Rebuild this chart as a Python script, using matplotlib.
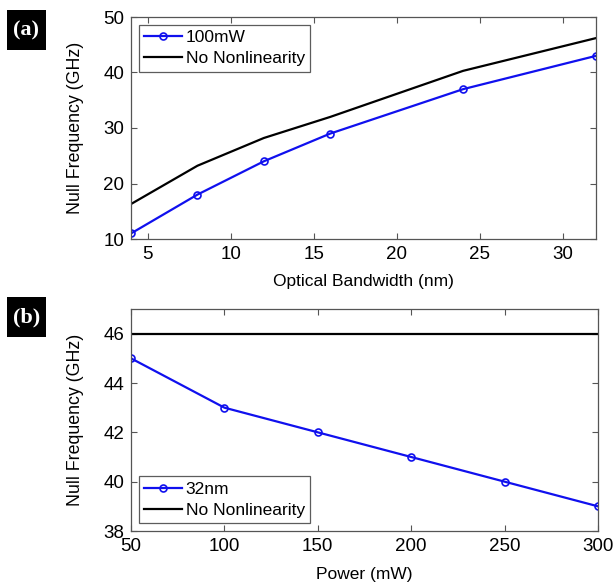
import matplotlib.pyplot as plt
from matplotlib.patches import Rectangle

# datos panel (a)
bw_nm = [4, 8, 12, 16, 24, 32]
null_100mw = [11, 18, 24, 29, 37, 43]
null_nonl_a = [16.3, 23.2, 28.2, 32.0, 40.3, 46.2]

# datos panel (b)
power_mw = [50, 100, 150, 200, 250, 300]
null_32nm = [45, 43, 42, 41, 40, 39]
null_nonl_b = [46, 46, 46, 46, 46, 46]

plt.rcParams['font.family'] = ['Liberation Sans', 'DejaVu Sans']
plt.rcParams['font.size'] = 12

fig = plt.figure(figsize=(6.15, 5.84), dpi=100)
W, H = 615, 584

def mk_axes(x0, y0, x1, y1):
    return fig.add_axes([x0 / W, 1 - y1 / H, (x1 - x0) / W, (y1 - y0) / H])

def style(ax):
    ax.tick_params(direction='in', top=True, right=True, length=4, width=0.8,
                   labelsize=13.5, color='#555555', pad=5)
    for s in ax.spines.values():
        s.set_color('#555555')
        s.set_linewidth(0.9)

def add_legend(ax, loc):
    leg = ax.legend(loc=loc, fontsize=12.5, frameon=True, fancybox=False,
                    edgecolor='#333333', handlelength=2.2, handletextpad=0.2,
                    borderpad=0.3, labelspacing=0.35, borderaxespad=0.45)
    leg.get_frame().set_linewidth(0.9)

# panel (a)
ax1 = mk_axes(131, 17, 596, 239)
ax1.plot(bw_nm, null_100mw, '-o', color='#1010ee', lw=1.6, ms=5, mfc='none', mew=1.2, label='100mW')
ax1.plot(bw_nm, null_nonl_a, '-', color='black', lw=1.6, label='No Nonlinearity')
ax1.set_xlim(4, 32)
ax1.set_ylim(10, 50)
ax1.set_xticks([5, 10, 15, 20, 25, 30])
ax1.set_yticks([10, 20, 30, 40, 50])
ax1.set_xlabel('Optical Bandwidth (nm)', fontsize=12.5, labelpad=8)
ax1.set_ylabel('Null Frequency (GHz)', fontsize=12.8, labelpad=13.5)
style(ax1)
add_legend(ax1, 'upper left')

# panel (b)
ax2 = mk_axes(131, 309, 598, 531)
ax2.plot(power_mw, null_32nm, '-o', color='#1010ee', lw=1.6, ms=5, mfc='none', mew=1.2, label='32nm')
ax2.plot(power_mw, null_nonl_b, '-', color='black', lw=1.6, label='No Nonlinearity')
ax2.set_xlim(50, 300)
ax2.set_ylim(38, 47)
ax2.set_xticks([50, 100, 150, 200, 250, 300])
ax2.set_yticks([38, 40, 42, 44, 46])
ax2.set_xlabel('Power (mW)', fontsize=12.5, labelpad=9)
ax2.set_ylabel('Null Frequency (GHz)', fontsize=12.8, labelpad=13.5)
style(ax2)
add_legend(ax2, 'lower left')

# etiquetas de panel: cuadro negro con texto blanco
for lbl, y0 in [('(a)', 10), ('(b)', 297)]:
    fig.patches.append(Rectangle((7 / W, 1 - (y0 + 40) / H), 39 / W, 40 / H,
                                 transform=fig.transFigure, fc='black', ec='none'))
    fig.text(26.5 / W, 1 - (y0 + 20) / H, lbl, ha='center', va='center', color='white',
             fontsize=16, fontweight='bold', family='Liberation Serif')

fig.savefig('out.png', dpi=100)
